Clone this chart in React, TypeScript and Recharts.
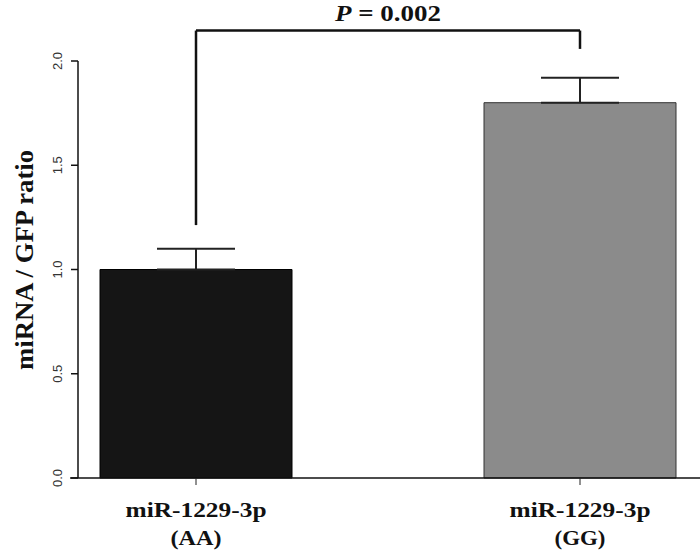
import React from 'react';
import { ComposedChart, Bar, Cell, XAxis, YAxis, ErrorBar, ReferenceLine } from 'recharts';

// ---- data ----
const categories = ['miR-1229-3p', 'miR-1229-3p'];
const genotypes = ['(AA)', '(GG)'];
const positions = [1, 2];
const ratios = [1.0, 1.8];
const errors = [0.1, 0.12];
const barColors = ['#151515', '#8b8b8b'];
const barStrokes = ['#000000', '#333333'];
const yTicks = [0, 0.5, 1.0, 1.5, 2.0];
const yTickLabels = ['0.0', '0.5', '1.0', '1.5', '2.0'];
const yTitle = 'miRNA / GFP ratio';
const pSymbol = 'P';
const pText = ' = 0.002';
const bracketTop = 2.146;
const bracketLeftEnd = 1.213;
const bracketRightEnd = 2.058;
const xDomain = [0.6927, 2.3125];
const xAxisLineStart = 0.672;

const data = positions.map((p, i) => ({
  pos: p,
  name: categories[i],
  geno: genotypes[i],
  ratio: ratios[i],
  err: [0, errors[i]],
}));

const SERIF = '"Liberation Serif", "Times New Roman", serif';
const SANS = '"Liberation Sans", Arial, sans-serif';

const YTick = (props: any) => {
  const { y, payload } = props;
  const idx = yTicks.indexOf(payload.value);
  const label = idx >= 0 ? yTickLabels[idx] : String(payload.value);
  return (
    <text
      x={0}
      y={0}
      transform={`translate(57, ${y}) rotate(-90)`}
      textAnchor="middle"
      dominantBaseline="central"
      fontFamily={SANS}
      fontSize={13}
      fill="#333"
    >
      {label}
    </text>
  );
};

const XTick = (props: any) => {
  const { x, y, payload } = props;
  const idx = positions.indexOf(payload.value);
  if (idx < 0) return null;
  return (
    <g>
      <text
        x={x}
        y={y + 30}
        textAnchor="middle"
        fontFamily={SERIF}
        fontWeight="bold"
        fontSize={22}
        fill="#111"
        textLength={141}
        lengthAdjust="spacingAndGlyphs"
      >
        {categories[idx]}
      </text>
      <text
        x={x}
        y={y + 58}
        textAnchor="middle"
        fontFamily={SERIF}
        fontWeight="bold"
        fontSize={22}
        fill="#111"
        textLength={51}
        lengthAdjust="spacingAndGlyphs"
      >
        {genotypes[idx]}
      </text>
    </g>
  );
};

const PLabel = (props: any) => {
  const vb = props.viewBox || {};
  const cx = (vb.x || 0) + (vb.width || 0) / 2;
  const cy = vb.y || 0;
  return (
    <text
      x={cx}
      y={cy - 10}
      textAnchor="middle"
      fontFamily={SERIF}
      fontWeight="bold"
      fontSize={24}
      fill="#111"
      textLength={106}
      lengthAdjust="spacingAndGlyphs"
    >
      <tspan fontStyle="italic">{pSymbol}</tspan>
      <tspan>{pText}</tspan>
    </text>
  );
};

export default function App() {
  return (
    <div style={{ position: 'absolute', left: 0, top: 0, width: 700, height: 556, background: '#fff' }}>
      <style>{'body{margin:0;background:#fff}'}</style>
      <ComposedChart
        width={700}
        height={556}
        data={data}
        margin={{ top: 61, right: 0, bottom: 0, left: 0 }}
      >
        <XAxis
          dataKey="pos"
          type="number"
          domain={xDomain}
          allowDataOverflow
          ticks={positions}
          height={78}
          tickSize={7}
          tickLine={{ stroke: '#222', strokeWidth: 1 }}
          axisLine={false}
          tick={<XTick />}
        />
        <YAxis
          type="number"
          domain={[0, 2]}
          ticks={yTicks}
          width={78}
          tickSize={7}
          axisLine={{ stroke: '#111', strokeWidth: 1.5 }}
          tickLine={{ stroke: '#111', strokeWidth: 1.5 }}
          tick={<YTick />}
          label={{
            value: yTitle,
            angle: -90,
            position: 'insideLeft',
            content: (p: any) => (
              <text
                x={0}
                y={0}
                transform={`translate(24, 260) rotate(-90)`}
                textAnchor="middle"
                dominantBaseline="central"
                fontFamily={SERIF}
                fontWeight="bold"
                fontSize={25}
                fill="#111"
                textLength={220}
                lengthAdjust="spacingAndGlyphs"
              >
                {yTitle}
              </text>
            ),
          }}
        />
        <ReferenceLine
          segment={[{ x: xAxisLineStart, y: 0 }, { x: xDomain[1], y: 0 }]}
          stroke="#111"
          strokeWidth={1.5}
          ifOverflow="visible"
        />
        <Bar dataKey="ratio" barSize={192} isAnimationActive={false}>
          {data.map((d, i) => (
            <Cell key={i} fill={barColors[i]} stroke={barStrokes[i]} strokeWidth={1} />
          ))}
          <ErrorBar dataKey="err" width={39} stroke="#222" strokeWidth={2} direction="y" />
        </Bar>
        <ReferenceLine
          segment={[{ x: positions[0], y: bracketLeftEnd }, { x: positions[0], y: bracketTop }]}
          stroke="#111"
          strokeWidth={2.5}
          ifOverflow="visible"
        />
        <ReferenceLine
          segment={[{ x: positions[1], y: bracketRightEnd }, { x: positions[1], y: bracketTop }]}
          stroke="#111"
          strokeWidth={2.5}
          ifOverflow="visible"
        />
        <ReferenceLine
          segment={[{ x: positions[0], y: bracketTop }, { x: positions[1], y: bracketTop }]}
          stroke="#111"
          strokeWidth={2.5}
          ifOverflow="visible"
          label={<PLabel />}
        />
      </ComposedChart>
    </div>
  );
}
